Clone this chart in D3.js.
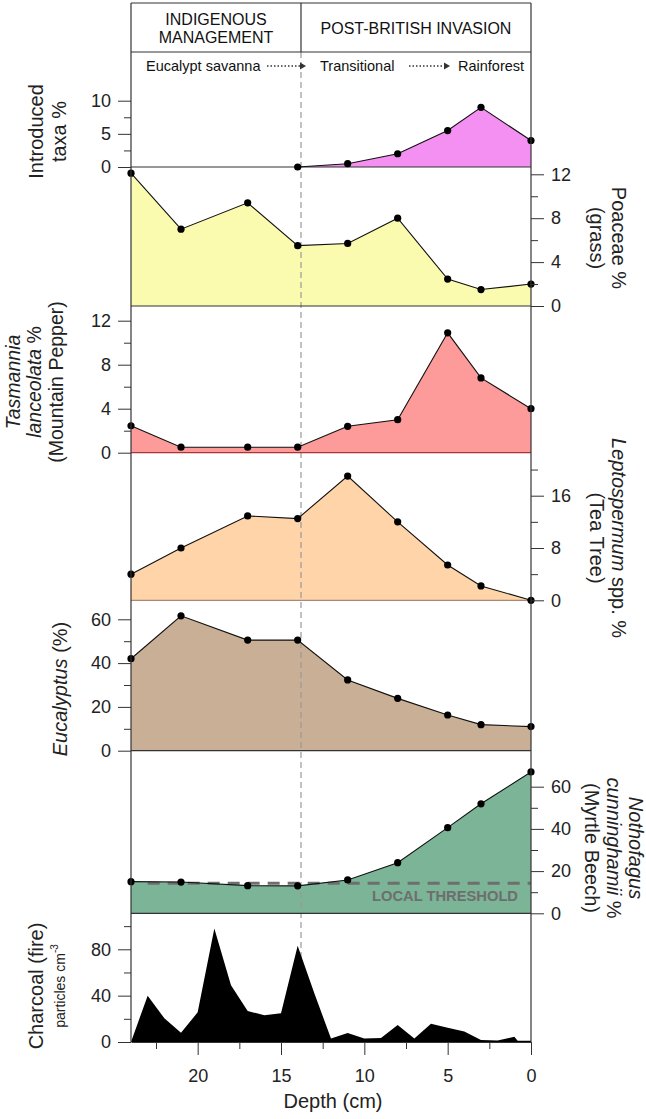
<!DOCTYPE html>
<html><head><meta charset="utf-8">
<script src="https://cdn.jsdelivr.net/npm/d3@7"></script>
<style>body{margin:0;background:#fff} svg{display:block;font-family:"Liberation Sans",Arial,sans-serif}</style>
</head><body><svg id="c" width="646" height="1119"></svg>
<script>
// ---- data ----
const depths = [24,21,17,14,11,8,5,3,0];
const introducedDepths = [14,11,8,5,3,0];
const introduced = [0,0.5,2,5.5,9,4];
const poaceae = [12.1,7.0,9.4,5.5,5.7,8.0,2.45,1.5,2.0];
const tasmannia = [2.45,0.5,0.5,0.5,2.4,3.0,10.9,6.8,4.0];
const leptospermum = [4.0,8.0,12.9,12.5,19.0,12.0,5.4,2.2,0];
const eucalyptus = [42,61.6,50.5,50.5,32.3,23.9,16.3,11.9,11.0];
const nothofagus = [15.0,14.8,13.1,13.0,15.8,24.0,40.6,51.9,67.0];
const nothofagusThreshold = 14.2;
const charcoalDepths = [24,23,22,21,20,19,18,17,16,15,14,13,12,11,10,9,8,7,6,5,4,3,2,1,0.8,0];
const charcoal = [0,40,20.5,8,25.6,98,49,26.8,23,24.8,83,42,3,7.8,3,3.5,14.7,3,15.8,12.4,9,1.7,1.2,4.6,1,1];
const xMajorTicks = [20,15,10,5,0];
const xMinorTicks = [22.5,17.5,12.5,7.5,2.5];
const boundaryDepth = 13.8;
const periods = ["INDIGENOUS|MANAGEMENT","POST-BRITISH INVASION"];
const stages = ["Eucalypt savanna","Transitional","Rainforest"];

// ---- layout ----
const L = 131, R = 531, headerTop = 3, headerBot = 52;
const svg = d3.select("#c");
const x = d3.scaleLinear().domain([24,0]).range([L,R]);

const panels = [
  {d:introducedDepths, v:introduced, dom:[0,10], rng:[167,100.7], fill:"#f490f2", side:"left", maj:[0,5,10], min:[2.5,7.5]},
  {d:depths, v:poaceae, dom:[0,12], rng:[306,174.3], fill:"#fbfbb0", side:"right", maj:[0,4,8,12], min:[2,6,10]},
  {d:depths, v:tasmannia, dom:[0,12], rng:[452.7,320.7], fill:"#fd9a9a", side:"left", maj:[0,4,8,12], min:[2,6,10], base:"#a33"},
  {d:depths, v:leptospermum, dom:[0,16], rng:[600.3,495.7], fill:"#fed4a8", side:"right", maj:[0,8,16], min:[4,12,20], base:"#a87"},
  {d:depths, v:eucalyptus, dom:[0,60], rng:[750.7,619.3], fill:"#c9af96", side:"left", maj:[0,20,40,60], min:[10,30,50]},
  {d:depths, v:nothofagus, dom:[0,60], rng:[913.3,786.7], fill:"#7bb496", side:"right", maj:[0,20,40,60], min:[10,30,50]},
];
panels.forEach(p => p.y = d3.scaleLinear().domain(p.dom).range(p.rng));
const yC = d3.scaleLinear().domain([0,80]).range([1042,949.3]);

// areas
panels.forEach(p => {
  const pts = p.d.map((d,i)=>[d,p.v[i]]);
  const area = d3.area().x(d=>x(d[0])).y0(p.y(0)).y1(d=>p.y(d[1]));
  svg.append("path").attr("d", area(pts)).attr("fill", p.fill);
});

// boundary dashed line
svg.append("line").attr("x1",x(boundaryDepth)).attr("x2",x(boundaryDepth))
  .attr("y1",headerBot).attr("y2",yC(0))
  .attr("stroke","#999").attr("stroke-width",1.2).attr("stroke-dasharray","6,4");

// charcoal
{
  const pts = charcoalDepths.map((d,i)=>[d,charcoal[i]]);
  const area = d3.area().x(d=>x(d[0])).y0(yC(0)).y1(d=>yC(d[1]));
  svg.append("path").attr("d", area(pts)).attr("fill","#000");
}

// threshold
{
  const p = panels[5];
  svg.append("line").attr("x1",x(23)).attr("x2",R)
    .attr("y1",p.y(nothofagusThreshold)).attr("y2",p.y(nothofagusThreshold))
    .attr("stroke","#6e6e6e").attr("stroke-width",3).attr("stroke-dasharray","12,8");
  svg.append("text").attr("x",518).attr("y",900.5).attr("text-anchor","end")
    .attr("font-size",14).attr("font-weight","bold").attr("fill","#6e6e6e")
    .attr("textLength",146).attr("lengthAdjust","spacingAndGlyphs")
    .text("LOCAL THRESHOLD");
}

// lines, dots, baselines
panels.forEach(p => {
  const pts = p.d.map((d,i)=>[d,p.v[i]]);
  svg.append("line").attr("x1",L).attr("x2",R).attr("y1",p.y(0)).attr("y2",p.y(0))
    .attr("stroke", p.base || "#333").attr("stroke-width",1.2);
  svg.append("path").attr("d", d3.line().x(d=>x(d[0])).y(d=>p.y(d[1]))(pts))
    .attr("fill","none").attr("stroke","#111").attr("stroke-width",1.1);
  svg.selectAll(null).data(pts).enter().append("circle")
    .attr("cx",d=>x(d[0])).attr("cy",d=>p.y(d[1])).attr("r",3.6).attr("fill","#000");
});

// y axes
function yAxis(scale, side, maj, min){
  const X = side==="left" ? L : R;
  const mk = side==="left" ? d3.axisLeft : d3.axisRight;
  const g = svg.append("g").attr("transform",`translate(${X},0)`);
  g.call(mk(scale).tickValues(maj).tickSize(13).tickSizeOuter(0).tickPadding(7).tickFormat(d3.format("d")));
  g.select(".domain").remove();
  g.selectAll("text").attr("font-size",18).attr("font-family","Liberation Sans, Arial, sans-serif").attr("fill","#222");
  g.selectAll("line").attr("stroke","#333");
  const g2 = svg.append("g").attr("transform",`translate(${X},0)`);
  g2.call(mk(scale).tickValues(min).tickSize(7).tickSizeOuter(0).tickFormat(""));
  g2.select(".domain").remove();
  g2.selectAll("line").attr("stroke","#333");
}
panels.forEach(p => yAxis(p.y, p.side, p.maj, p.min));
yAxis(yC, "left", [0,40,80], [20,60,100]);

// borders & header
const frame = svg.append("g").attr("stroke","#333").attr("stroke-width",1.2).attr("fill","none");
frame.append("line").attr("x1",L).attr("x2",L).attr("y1",headerTop).attr("y2",yC(0));
frame.append("line").attr("x1",R).attr("x2",R).attr("y1",headerTop).attr("y2",yC(0));
frame.append("line").attr("x1",L).attr("x2",R).attr("y1",headerTop).attr("y2",headerTop);
frame.append("line").attr("x1",L).attr("x2",R).attr("y1",headerBot).attr("y2",headerBot);
frame.append("line").attr("x1",x(boundaryDepth)).attr("x2",x(boundaryDepth)).attr("y1",headerTop).attr("y2",headerBot);

const hdr = svg.append("g").attr("font-size",16).attr("fill","#111").attr("text-anchor","middle");
const p1 = periods[0].split("|");
hdr.append("text").attr("x",(L+x(boundaryDepth))/2).attr("y",25).text(p1[0]);
hdr.append("text").attr("x",(L+x(boundaryDepth))/2).attr("y",42.5).text(p1[1]);
hdr.append("text").attr("x",(x(boundaryDepth)+R)/2).attr("y",34).text(periods[1]);

// stages row
const st = svg.append("g").attr("font-size",14.5).attr("fill","#111");
st.append("text").attr("x",146).attr("y",71).text(stages[0]);
st.append("text").attr("x",320).attr("y",71).text(stages[1]);
st.append("text").attr("x",458).attr("y",71).text(stages[2]);
function dottedArrow(x1,x2,yy){
  svg.append("line").attr("x1",x1).attr("x2",x2-3).attr("y1",yy).attr("y2",yy)
    .attr("stroke","#333").attr("stroke-width",1.3).attr("stroke-dasharray","1.5,2");
  svg.append("path").attr("d",`M${x2-6},${yy-3.5}L${x2},${yy}L${x2-6},${yy+3.5}Z`).attr("fill","#333");
}
dottedArrow(267,306,66);
dottedArrow(409,450,66);

// x axis
{
  const g = svg.append("g").attr("transform",`translate(0,${yC(0)})`);
  g.call(d3.axisBottom(x).tickValues(xMajorTicks).tickSize(13).tickSizeOuter(0).tickPadding(14).tickFormat(d3.format("d")));
  g.select(".domain").attr("stroke","#333");
  g.selectAll("text").attr("font-size",18).attr("font-family","Liberation Sans, Arial, sans-serif").attr("fill","#222");
  g.selectAll("line").attr("stroke","#333");
  const g2 = svg.append("g").attr("transform",`translate(0,${yC(0)})`);
  g2.call(d3.axisBottom(x).tickValues(xMinorTicks).tickSize(7).tickSizeOuter(0).tickFormat(""));
  g2.select(".domain").remove();
  g2.selectAll("line").attr("stroke","#333");
  svg.append("text").attr("x",333).attr("y",1108).attr("text-anchor","middle")
    .attr("font-size",20).attr("fill","#222").text("Depth (cm)");
}

// axis titles
function vtitle(lines, cy, rot, size){
  lines.forEach(l => {
    const t = svg.append("text").attr("transform",`translate(${l.x},${cy}) rotate(${rot})`)
      .attr("text-anchor","middle").attr("font-size", l.size || size).attr("fill","#222");
    l.parts.forEach(pt => {
      const ts = t.append("tspan").text(pt[0]);
      if (pt[1]==="i") ts.attr("font-style","italic");
      if (pt[1]==="sup") ts.attr("font-size",10).attr("dy",-7);
    });
  });
}
vtitle([{x:43,parts:[["Introduced"]]},{x:66,parts:[["taxa %"]]}], 131.5, -90, 20);
vtitle([{x:612,parts:[["Poaceae %"]]},{x:590,parts:[["(grass)"]]}], 238, 90, 20);
vtitle([{x:19.5,parts:[["Tasmannia","i"]]},{x:41,parts:[["lanceolata","i"],[" %"]]},{x:62.5,parts:[["(Mountain Pepper)"]]}], 382, -90, 19.5);
vtitle([{x:612,parts:[["Leptospermum","i"],[" spp. %"]]},{x:590,parts:[["(Tea Tree)"]]}], 538, 90, 20);
vtitle([{x:67,parts:[["Eucalyptus","i"],[" (%)"]]}], 689, -90, 20);
vtitle([{x:629,parts:[["Nothofagus","i"]]},{x:607,parts:[["cunninghamii","i"],[" %"]]},{x:585,parts:[["(Myrtle Beech)"]]}], 848, 90, 20);
vtitle([{x:42.5,parts:[["Charcoal (fire)"]]},{x:65,size:14,parts:[["particles cm"],["-3","sup"]]}], 986, -90, 20);
</script></body></html>
